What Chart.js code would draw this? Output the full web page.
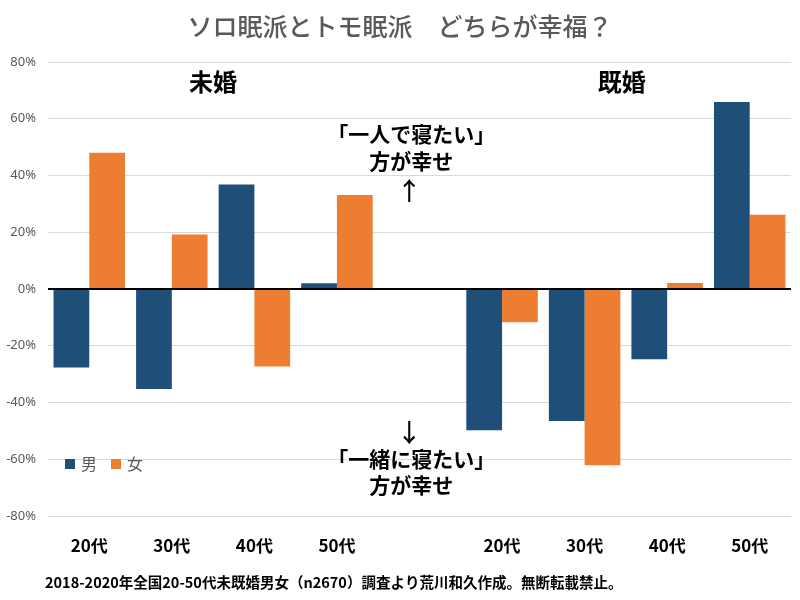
<!DOCTYPE html>
<html>
<head>
<meta charset="utf-8">
<script src="https://cdn.jsdelivr.net/npm/chart.js@4"></script>
<style>
  html, body { margin: 0; padding: 0; background: #fff; }
  #wrap { width: 800px; height: 600px; }
</style>
</head>
<body>
<div id="wrap"><canvas id="myChart" width="800" height="600"></canvas></div>
<script>
// categories (blank slot separates 未婚 / 既婚)
const categories = ['20代', '30代', '40代', '50代', '', '20代', '30代', '40代', '50代'];
const seriesNames = ['男', '女'];
// percent: "一人で寝たい" minus "一緒に寝たい"
const maleValues = [-27.7, -35.2, 36.8, 2.0, null, -49.8, -46.5, -24.8, 65.9];
const femaleValues = [48.0, 19.2, -27.3, 33.1, null, -11.7, -62.1, 2.1, 26.2];
const yTicks = [-80, -60, -40, -20, 0, 20, 40, 60, 80];

const colors = ['#1F4E79', '#ED7D31'];
const jpFont = "'Noto Sans CJK JP', 'Noto Sans', sans-serif";

//draws the title, notes, legend and footer
const textPlugin = {
  id: 'texts',
  afterDraw(chart) {
    const ctx = chart.ctx;
    const x = chart.scales.x;
    const y = chart.scales.y;
    ctx.save();
    ctx.textAlign = 'center';
    ctx.textBaseline = 'middle';

    // title
    ctx.fillStyle = '#595959';
    ctx.font = '500 25px ' + jpFont;
    ctx.fillText('ソロ眠派とトモ眠派　どちらが幸福？', 400, 26);

    // group names
    ctx.fillStyle = '#000';
    ctx.font = 'bold 24px ' + jpFont;
    ctx.fillText('未婚', x.getPixelForValue(1.5), y.getPixelForValue(73));
    ctx.fillText('既婚', x.getPixelForValue(6.45), y.getPixelForValue(73));

    // notes in the middle
    const cx = x.getPixelForValue(3.9);
    ctx.font = 'bold 21px ' + jpFont;
    ctx.fillText('「一人で寝たい」', cx, 134);
    ctx.fillText('方が幸せ', cx, 161);
    ctx.fillText('「一緒に寝たい」', cx, 459);
    ctx.fillText('方が幸せ', cx, 485);
    ctx.font = '500 25px ' + jpFont;
    ctx.fillText('↑', cx - 2, 190);
    ctx.fillText('↓', cx - 2, 432);

    // legend
    ctx.textAlign = 'left';
    ctx.font = '16px ' + jpFont;
    let lx = 65;
    const ly = 464;
    chart.data.datasets.forEach(ds => {
      ctx.fillStyle = ds.backgroundColor;
      ctx.fillRect(lx, ly - 5, 10, 10);
      ctx.fillStyle = '#595959';
      ctx.fillText(ds.label, lx + 16, ly);
      lx += 46;
    });

    // footer
    ctx.fillStyle = '#000';
    ctx.font = 'bold 14.5px ' + jpFont;
    ctx.fillText('2018-2020年全国20-50代未既婚男女（n2670）調査より荒川和久作成。無断転載禁止。', 45, 582);
    ctx.restore();
  }
};

const myChart = document.getElementById('myChart');

let barChart = new Chart(myChart, {
  type: 'bar',
  data: {
    labels: categories,
    datasets: [
      { label: seriesNames[0], data: maleValues, backgroundColor: colors[0] },
      { label: seriesNames[1], data: femaleValues, backgroundColor: colors[1] }
    ]
  },
  options: {
    responsive: false,
    animation: false,
    layout: { padding: { top: 62, right: 9, bottom: 34, left: 0 } },
    datasets: {
      bar: { barPercentage: 1, categoryPercentage: 0.866 }
    },
    plugins: {
      legend: { display: false },
      title: { display: false },
      tooltip: { enabled: false }
    },
    scales: {
      x: {
        grid: { display: false, drawTicks: false },
        border: { display: false },
        ticks: {
          color: '#000',
          font: { family: jpFont, size: 17, weight: 'bold' },
          padding: 19,
          maxRotation: 0,
          autoSkip: false
        },
        afterFit(scale) { scale.height = 50; }
      },
      y: {
        min: -80,
        max: 80,
        afterBuildTicks(scale) { scale.ticks = yTicks.map(v => ({ value: v })); },
        grid: {
          drawTicks: false,
          color: c => c.tick.value === 0 ? '#000' : '#d9d9d9',
          lineWidth: c => c.tick.value === 0 ? 2 : 1
        },
        border: { display: false },
        ticks: {
          color: '#595959',
          font: { family: "'Noto Sans', sans-serif", size: 13 },
          padding: 12,
          callback: v => v + '%'
        },
        afterFit(scale) { scale.width = 48; }
      }
    }
  },
  plugins: [textPlugin]
});
</script>
</body>
</html>
